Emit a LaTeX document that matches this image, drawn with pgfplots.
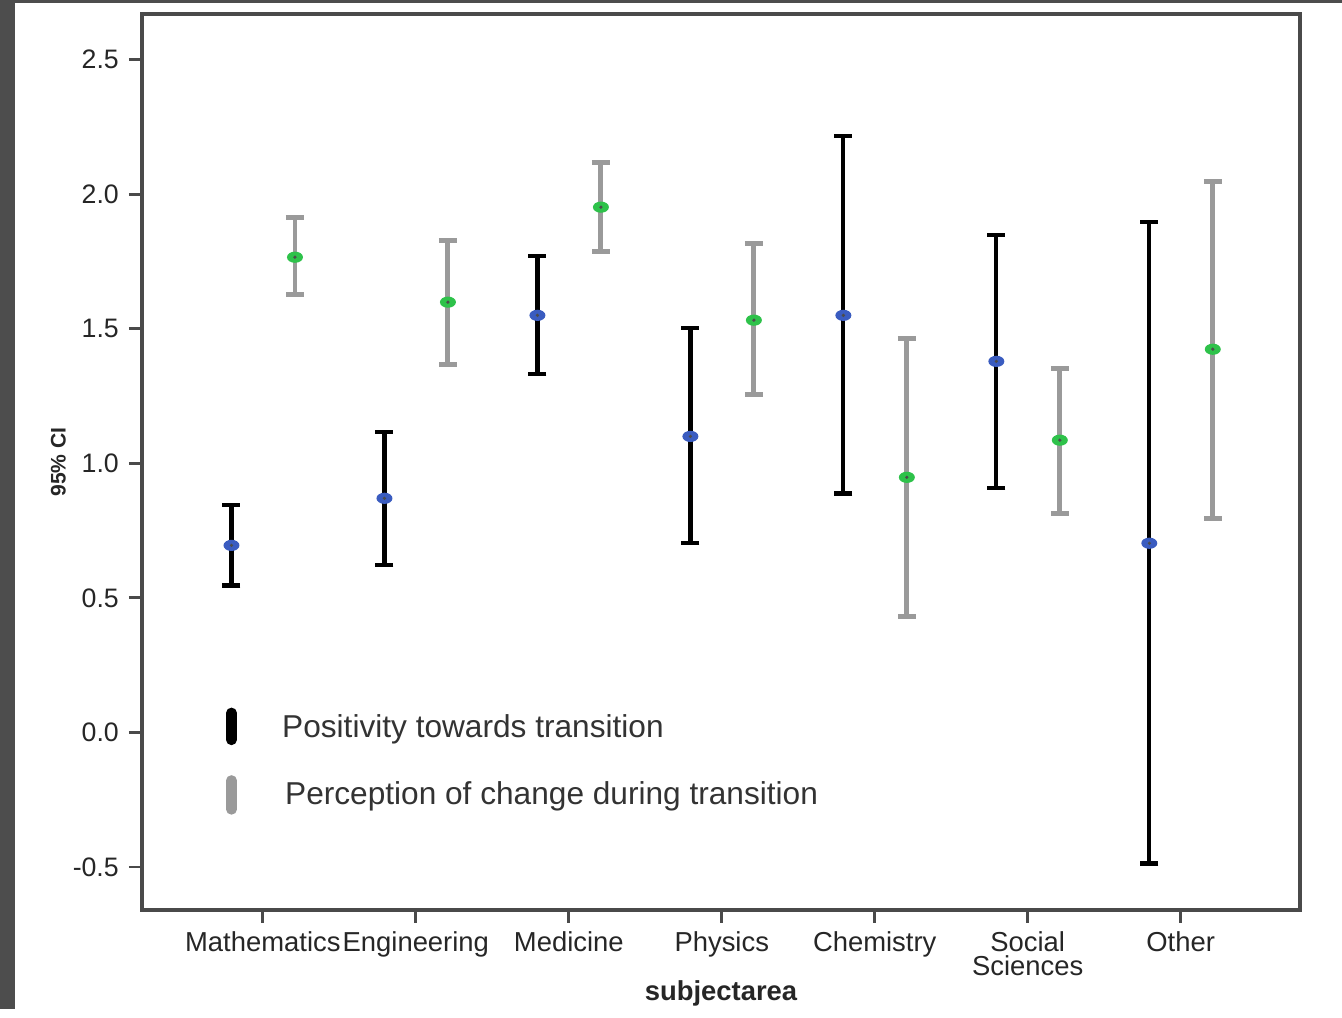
\documentclass[border=0pt]{standalone}
\usepackage{pgfplots}
\pgfplotsset{compat=1.18}
\usepackage{pgfplotstable}
\usepackage{fontspec}
\setmainfont{Liberation Sans}
\usetikzlibrary{backgrounds}

\definecolor{axgray}{HTML}{4A4A4A}
\definecolor{bargray}{HTML}{9A9A9A}
\definecolor{dotblue}{HTML}{3A5CC0}
\definecolor{dotgreen}{HTML}{2EC24A}
\definecolor{framegray}{HTML}{4D4D4D}

% center marker: flat ellipse with a dark dot
\pgfdeclareplotmark{ciellipse}{%
  \pgfpathellipse{\pgfpointorigin}{\pgfqpoint{0.8mm}{0pt}}{\pgfqpoint{0pt}{0.56mm}}%
  \pgfusepath{fill}%
  \begin{pgfscope}%
  \pgfsetfillcolor{black!70}%
  \pgfpathcircle{\pgfpointorigin}{0.18mm}%
  \pgfusepath{fill}%
  \end{pgfscope}}

% x, mean, lower, upper of the 95% CI
\pgfplotstableread{
x      y      lo      hi
-0.205 0.695  0.546   0.844
0.795  0.870  0.621   1.115
1.795  1.550  1.331   1.770
2.795  1.100  0.703   1.502
3.795  1.550  0.888   2.216
4.795  1.379  0.907   1.848
5.795  0.703  -0.487  1.896
}\positivity

\pgfplotstableread{
x      y      lo      hi
0.210  1.766  1.628   1.914
1.210  1.599  1.368   1.829
2.210  1.952  1.788   2.119
3.210  1.532  1.257   1.818
4.210  0.948  0.431   1.465
5.210  1.086  0.814   1.353
6.210  1.424  0.796   2.048
}\perception

\begin{document}
\begin{tikzpicture}
\begin{axis}[
    scale only axis,
    width=115.8mm,
    height=89.6mm,
    xmin=-0.79, xmax=6.78,
    ymin=-0.66, ymax=2.67,
    axis line style={axgray, line width=0.9pt},
    tick style={axgray, line width=0.8pt},
    tick align=outside,
    major tick length=1.3mm,
    xtick={0,1,2,3,4,5,6},
    xticklabels={Mathematics,Engineering,Medicine,Physics,Chemistry,{Social\\Sciences},Other},
    xticklabel style={align=center, font=\fontsize{7.8}{7}\selectfont, text=black!85, inner sep=1pt, yshift=-0.4mm},
    ytick={-0.5,0,0.5,1,1.5,2,2.5},
    yticklabel style={font=\fontsize{7.6}{9}\selectfont, text=black!85, inner sep=1pt, xshift=-0.6mm},
    /pgf/number format/assume math mode=true,
    /pgf/number format/.cd, fixed, fixed zerofill, precision=1, /pgfplots/.cd,
    xtick pos=bottom, ytick pos=left,
    xlabel={\bfseries subjectarea},
    xlabel style={font=\fontsize{7.8}{9}\selectfont, text=black!85, at={(axis description cs:0.5,0)}, yshift=-8.3mm, anchor=center},
    ylabel={\bfseries 95\% CI},
    ylabel style={font=\fontsize{6}{7}\selectfont, text=black!85},
    ylabel shift=-0.9mm,
    legend style={at={(axis description cs:0.063,0.2345)}, anchor=north west, draw=none, fill=none,
        font=\fontsize{9}{11}\selectfont, text=black!80, row sep=3.0mm,
        nodes={inner sep=0pt}},
    legend cell align=left,
]

\addplot[only marks, mark=ciellipse, mark options={fill=dotblue},
    legend image code/.code={%
      \draw[line width=3pt, line cap=round, black] (0.53mm,-1.15mm) -- (0.53mm,1.55mm);
      \path[draw=none] (0,0) -- (5.6mm,0);},
    error bars/.cd, y dir=both, y explicit,
    error bar style={black, line width=1.2pt},
    error mark options={rotate=90, black, line width=1.2pt, mark size=0.9mm},
    ] table[x=x, y=y, y error plus expr=\thisrow{hi}-\thisrow{y}, y error minus expr=\thisrow{y}-\thisrow{lo}] {\positivity};
\addlegendentry{Positivity towards transition}

\addplot[only marks, mark=ciellipse, mark options={fill=dotgreen},
    legend image code/.code={%
      \draw[line width=3pt, line cap=round, bargray] (0.53mm,-1.35mm) -- (0.53mm,1.55mm);
      \path[draw=none] (0,0) -- (5.6mm,0);},
    error bars/.cd, y dir=both, y explicit,
    error bar style={bargray, line width=1.4pt},
    error mark options={rotate=90, bargray, line width=1.4pt, mark size=0.9mm},
    ] table[x=x, y=y, y error plus expr=\thisrow{hi}-\thisrow{y}, y error minus expr=\thisrow{y}-\thisrow{lo}] {\perception};
\addlegendentry{\hspace{0.3mm}Perception of change during transition}
\end{axis}

% page frame: dark strip on the left and top, as in the screenshot
\begin{scope}[on background layer]
  \fill[framegray] ([xshift=-14.2mm, yshift=-9.9mm]current axis.south west) rectangle ([xshift=120mm, yshift=91mm]current axis.south west);
  \fill[white] ([xshift=-12.7mm, yshift=-9.9mm]current axis.south west) rectangle ([xshift=120mm, yshift=90.7mm]current axis.south west);
\end{scope}
\path[use as bounding box] ([xshift=-14.2mm, yshift=-9.9mm]current axis.south west) rectangle ([xshift=120mm, yshift=91mm]current axis.south west);
\end{tikzpicture}
\end{document}
